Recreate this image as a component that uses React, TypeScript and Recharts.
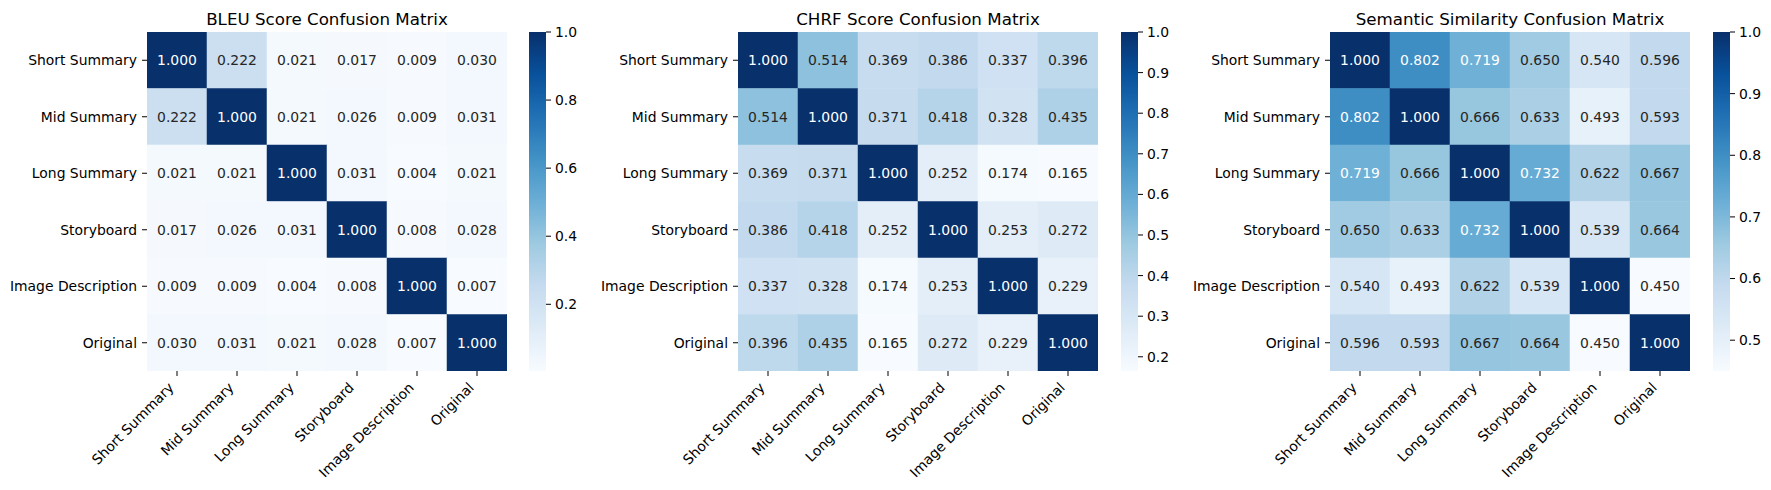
import React from 'react';
import { ScatterChart, Scatter, XAxis, YAxis, ComposedChart, Bar } from 'recharts';

const labels = ['Short Summary', 'Mid Summary', 'Long Summary', 'Storyboard', 'Image Description', 'Original'];

const bleuScores = [
  [1.0, 0.222, 0.021, 0.017, 0.009, 0.03],
  [0.222, 1.0, 0.021, 0.026, 0.009, 0.031],
  [0.021, 0.021, 1.0, 0.031, 0.004, 0.021],
  [0.017, 0.026, 0.031, 1.0, 0.008, 0.028],
  [0.009, 0.009, 0.004, 0.008, 1.0, 0.007],
  [0.03, 0.031, 0.021, 0.028, 0.007, 1.0],
];

const chrfScores = [
  [1.0, 0.514, 0.369, 0.386, 0.337, 0.396],
  [0.514, 1.0, 0.371, 0.418, 0.328, 0.435],
  [0.369, 0.371, 1.0, 0.252, 0.174, 0.165],
  [0.386, 0.418, 0.252, 1.0, 0.253, 0.272],
  [0.337, 0.328, 0.174, 0.253, 1.0, 0.229],
  [0.396, 0.435, 0.165, 0.272, 0.229, 1.0],
];

const semanticScores = [
  [1.0, 0.802, 0.719, 0.65, 0.54, 0.596],
  [0.802, 1.0, 0.666, 0.633, 0.493, 0.593],
  [0.719, 0.666, 1.0, 0.732, 0.622, 0.667],
  [0.65, 0.633, 0.732, 1.0, 0.539, 0.664],
  [0.54, 0.493, 0.622, 0.539, 1.0, 0.45],
  [0.596, 0.593, 0.667, 0.664, 0.45, 1.0],
];

const bleuTicks = [0.2, 0.4, 0.6, 0.8, 1.0];
const chrfTicks = [0.2, 0.3, 0.4, 0.5, 0.6, 0.7, 0.8, 0.9, 1.0];
const semanticTicks = [0.5, 0.6, 0.7, 0.8, 0.9, 1.0];

// matplotlib "Blues"
const BLUES = ['#f7fbff', '#deebf7', '#c6dbef', '#9ecae1', '#6baed6', '#4292c6', '#2171b5', '#08519c', '#08306b'];

const FONT = '"DejaVu Sans", sans-serif';
const FS = 13.9;
const TOP = 32;
const MAP_W = 360;
const MAP_H = 339;
const CELL_W = MAP_W / 6;
const CELL_H = MAP_H / 6;
const Y_W = 140;
const X_H = 490 - TOP - MAP_H;
const CB_W = 17;

const hexToRgb = (h: string) => [1, 3, 5].map((i) => parseInt(h.slice(i, i + 2), 16) / 255);

const blues = (t: number) => {
  const idx = Math.min(255, Math.max(0, Math.floor(t * 256)));
  const p = (idx / 255) * 8;
  const i = Math.min(7, Math.floor(p));
  const f = p - i;
  const a = hexToRgb(BLUES[i]);
  const b = hexToRgb(BLUES[i + 1]);
  const c = a.map((v, k) => Math.round((v + (b[k] - v) * f) * 255));
  return `rgb(${c[0]},${c[1]},${c[2]})`;
};

const textColor = (fill: string) => {
  const rgb = fill.match(/\d+/g)!.map((v) => Number(v) / 255);
  const lin = rgb.map((v) => (v <= 0.03928 ? v / 12.92 : Math.pow((v + 0.055) / 1.055, 2.4)));
  const lum = lin[0] * 0.2126 + lin[1] * 0.7152 + lin[2] * 0.0722;
  return lum > 0.408 ? '#262626' : '#ffffff';
};

const positions = labels.map((_, i) => i + 0.5);

const XTick = (props: any) => {
  const { x, y, payload } = props;
  const ex = x - 2.3;
  const ey = y + 7.5;
  return (
    <text x={ex} y={ey} textAnchor="end" fontSize={FS} fontFamily={FONT} fill="#000" transform={`rotate(-45, ${ex}, ${ey})`}>
      {labels[Math.round(payload.value - 0.5)]}
    </text>
  );
};

const YTick = (props: any) => {
  const { x, y, payload } = props;
  return (
    <text x={x} y={y} dy="0.35em" textAnchor="end" fontSize={FS} fontFamily={FONT} fill="#000">
      {labels[Math.round(payload.value - 0.5)]}
    </text>
  );
};

interface PanelProps {
  id: string;
  title: string;
  scores: number[][];
  ticks: number[];
  left: number;
  cbLeft: number;
}

const Panel = ({ id, title, scores, ticks, left, cbLeft }: PanelProps) => {
  const flat = scores.flat();
  const vmin = Math.min(...flat);
  const vmax = Math.max(...flat);
  const norm = (v: number) => (v - vmin) / (vmax - vmin);
  const cells = scores.flatMap((row, r) => row.map((v, c) => ({ x: c + 0.5, y: r + 0.5, v })));

  const renderCell = (props: any) => {
    const { cx, cy, payload } = props;
    const fill = blues(norm(payload.v));
    return (
      <g>
        <rect x={cx - CELL_W / 2} y={cy - CELL_H / 2} width={CELL_W} height={CELL_H} fill={fill} stroke={fill} strokeWidth={0.5} />
        <text x={cx} y={cy} dy="0.36em" textAnchor="middle" fontSize={FS} fontFamily={FONT} fill={textColor(fill)}>
          {payload.v.toFixed(3)}
        </text>
      </g>
    );
  };

  return (
    <>
      <div
        style={{
          position: 'absolute',
          left,
          top: 8.5,
          width: MAP_W,
          textAlign: 'center',
          fontFamily: FONT,
          fontSize: 16.7,
          lineHeight: 'normal',
          color: '#000',
          whiteSpace: 'nowrap',
        }}
      >
        {title}
      </div>
      <div style={{ position: 'absolute', left: left - Y_W, top: 0 }}>
        <ScatterChart width={Y_W + MAP_W + 2} height={490} margin={{ top: TOP, right: 2, bottom: 0, left: 0 }}>
          <XAxis
            type="number"
            dataKey="x"
            domain={[0, 6]}
            ticks={positions}
            interval={0}
            height={X_H}
            tickSize={5}
            tickMargin={5}
            axisLine={false}
            tickLine={{ stroke: '#000', strokeWidth: 1 }}
            tick={<XTick />}
            allowDataOverflow
          />
          <YAxis
            type="number"
            dataKey="y"
            domain={[0, 6]}
            reversed
            ticks={positions}
            interval={0}
            width={Y_W}
            tickSize={5}
            tickMargin={5}
            axisLine={false}
            tickLine={{ stroke: '#000', strokeWidth: 1 }}
            tick={<YTick />}
            allowDataOverflow
          />
          <Scatter data={cells} shape={renderCell} isAnimationActive={false} />
        </ScatterChart>
      </div>
      <div style={{ position: 'absolute', left: cbLeft, top: 0 }}>
        <ComposedChart
          width={CB_W + 50}
          height={490}
          data={[{ name: 'cb', range: [vmin, vmax] }]}
          margin={{ top: TOP, right: 0, bottom: X_H, left: 0 }}
          barCategoryGap={0}
          barGap={0}
        >
          <defs>
            <linearGradient id={id} x1="0" y1="1" x2="0" y2="0">
              {BLUES.map((c, i) => (
                <stop key={i} offset={i / (BLUES.length - 1)} stopColor={c} />
              ))}
            </linearGradient>
          </defs>
          <XAxis dataKey="name" type="category" hide />
          <YAxis
            orientation="right"
            type="number"
            domain={[vmin, vmax]}
            ticks={ticks}
            interval={0}
            width={50}
            tickSize={5}
            tickMargin={4}
            axisLine={false}
            tickLine={{ stroke: '#000', strokeWidth: 1 }}
            tick={{ fill: '#000', fontSize: FS, fontFamily: FONT }}
            tickFormatter={(v: number) => v.toFixed(1)}
            allowDataOverflow
          />
          <Bar dataKey="range" fill={`url(#${id})`} isAnimationActive={false} />
        </ComposedChart>
      </div>
    </>
  );
};

export default function App() {
  return (
    <div style={{ position: 'absolute', left: 0, top: 0, width: 1771, height: 490, background: '#fff', fontFamily: FONT }}>
      <Panel id="cbBleu" title="BLEU Score Confusion Matrix" scores={bleuScores} ticks={bleuTicks} left={147} cbLeft={529} />
      <Panel id="cbChrf" title="CHRF Score Confusion Matrix" scores={chrfScores} ticks={chrfTicks} left={738} cbLeft={1121} />
      <Panel id="cbSem" title="Semantic Similarity Confusion Matrix" scores={semanticScores} ticks={semanticTicks} left={1330} cbLeft={1713} />
    </div>
  );
}
